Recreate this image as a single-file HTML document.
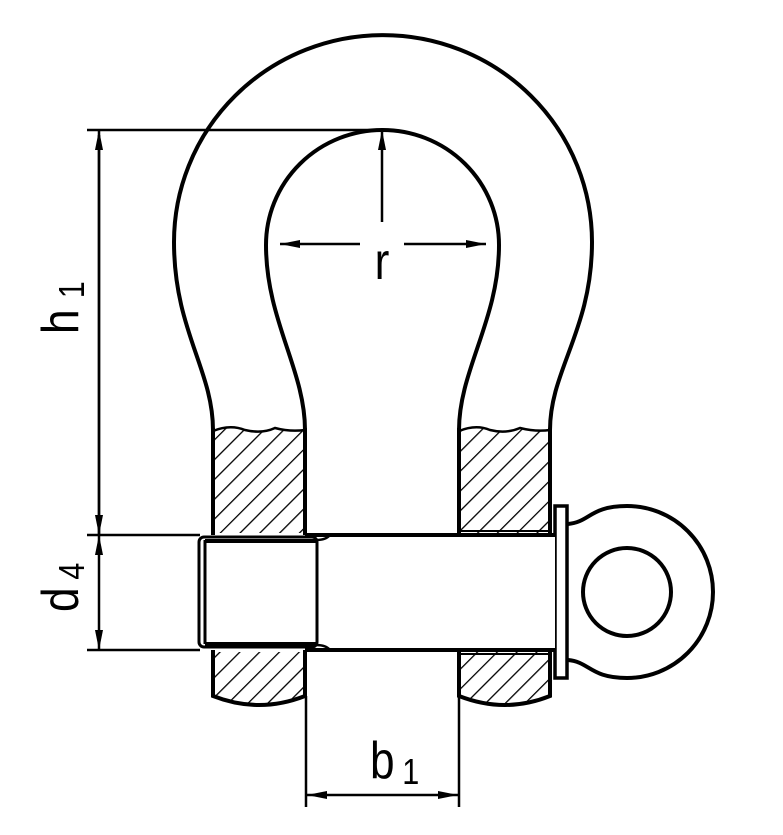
<!DOCTYPE html>
<html><head><meta charset="utf-8"><style>html,body{margin:0;padding:0;background:#fff}svg{display:block}</style></head>
<body>
<svg width="783" height="835" viewBox="0 0 783 835" xmlns="http://www.w3.org/2000/svg">
<defs>
<pattern id="h" patternUnits="userSpaceOnUse" width="14" height="14" patternTransform="rotate(45)">
<line x1="0" y1="0" x2="0" y2="14" stroke="#000" stroke-width="2.6"/>
</pattern>
<marker id="a" viewBox="0 0 20 8" refX="20" refY="4" markerWidth="20" markerHeight="8" markerUnits="userSpaceOnUse" orient="auto"><path d="M0,0 L20,4 L0,8 Z" fill="#000"/></marker>
</defs>
<g fill="none" stroke="#000" stroke-width="4">
<path d="M213,430 C213,370 174,330 174,242 A209,207 0 0 1 592,242 C592,330 550,370 550,430"/>
<path d="M305,430 C305,370 266,320 266,245 A116.5,115 0 0 1 499,245 C499,320 459,370 459,430"/>
<line x1="213" y1="428" x2="213" y2="535"/><line x1="305" y1="428" x2="305" y2="535"/>
<line x1="459" y1="428" x2="459" y2="535"/><line x1="550" y1="428" x2="550" y2="535"/>
</g>
<path d="M214,430 Q230,424 245,430 Q262,434 275,428 Q290,432 304,430 L304,533 L214,533 Z" fill="url(#h)" stroke="none"/>
<path d="M460,430 Q476,424 490,430 Q506,434 520,428 Q536,432 549,430 L549,533 L460,533 Z" fill="url(#h)" stroke="none"/>
<path d="M213,431 Q230,424 245,430 Q262,434 275,428 Q290,432 305,430" fill="none" stroke="#000" stroke-width="2.5"/>
<path d="M459,431 Q476,424 490,430 Q506,434 520,428 Q536,432 550,430" fill="none" stroke="#000" stroke-width="2.5"/>
<path d="M214,652 L304,652 L304,696 Q259,712 214,696 Z" fill="url(#h)" stroke="none"/>
<path d="M460,652 L549,652 L549,696 Q505,712 460,696 Z" fill="url(#h)" stroke="none"/>
<g fill="none" stroke="#000" stroke-width="4">
<path d="M213,650 L213,696 Q259,714 305,696 L305,650"/>
<path d="M459,650 L459,696 Q505,714 550,696 L550,650"/>
</g>
<path d="M568,524 C590,522 590,506 627,506 A86,86 0 0 1 627,678 C590,678 590,662 568,660" fill="#fff" stroke="#000" stroke-width="4"/>
<circle cx="627" cy="592" r="44" fill="none" stroke="#000" stroke-width="4"/>
<rect x="555" y="506" width="12" height="172" fill="#fff" stroke="#000" stroke-width="3.5"/>
<rect x="306" y="535" width="249" height="115" fill="#fff" stroke="none"/>
<line x1="305" y1="535" x2="555" y2="535" stroke="#000" stroke-width="4"/>
<line x1="305" y1="650" x2="555" y2="650" stroke="#000" stroke-width="4"/>
<line x1="459" y1="531" x2="550" y2="531" stroke="#000" stroke-width="2"/>
<line x1="459" y1="654" x2="550" y2="654" stroke="#000" stroke-width="2"/>
<rect x="199" y="537" width="118" height="110" rx="5" fill="#fff" stroke="#000" stroke-width="3"/>
<line x1="205" y1="540" x2="205" y2="644" stroke="#000" stroke-width="3"/>
<line x1="205" y1="541" x2="316" y2="541" stroke="#000" stroke-width="4"/>
<line x1="205" y1="644" x2="316" y2="644" stroke="#000" stroke-width="4"/>
<path d="M316,540 Q326,540 330,535 M316,645 Q326,645 330,650" fill="none" stroke="#000" stroke-width="2.5"/>
<g stroke="#000" stroke-width="2.5" fill="none">
<line x1="87" y1="130" x2="383" y2="130"/>
<line x1="87" y1="535" x2="200" y2="535"/>
<line x1="87" y1="650" x2="200" y2="650"/>
<line x1="99" y1="535" x2="99" y2="130" marker-end="url(#a)"/>
<line x1="99" y1="135" x2="99" y2="535" marker-end="url(#a)"/>
<line x1="99" y1="590" x2="99" y2="535" marker-end="url(#a)"/>
<line x1="99" y1="590" x2="99" y2="650" marker-end="url(#a)"/>
<line x1="382" y1="222" x2="382" y2="130" marker-end="url(#a)"/>
<line x1="360" y1="244" x2="280" y2="244" marker-end="url(#a)"/>
<line x1="404" y1="244" x2="486" y2="244" marker-end="url(#a)"/>
<line x1="306" y1="696" x2="306" y2="807"/>
<line x1="459" y1="696" x2="459" y2="807"/>
<line x1="380" y1="795" x2="307" y2="795" marker-end="url(#a)"/>
<line x1="380" y1="795" x2="458" y2="795" marker-end="url(#a)"/>
</g>
<g font-family="Liberation Sans, sans-serif" fill="#000">
<g transform="translate(382,279) scale(0.85,1)"><text x="0" y="0" font-size="52" text-anchor="middle">r</text></g>
<g transform="translate(370,778) scale(0.85,1)"><text x="0" y="0" font-size="52">b</text><text x="38" y="6" font-size="36">1</text></g>
<g transform="translate(78,334) rotate(-90) scale(0.85,1)"><text x="0" y="0" font-size="52">h</text><text x="42" y="6" font-size="36">1</text></g>
<g transform="translate(78,612) rotate(-90) scale(0.85,1)"><text x="0" y="0" font-size="52">d</text><text x="38" y="6" font-size="36">4</text></g>
</g>
</svg>
</body></html>
